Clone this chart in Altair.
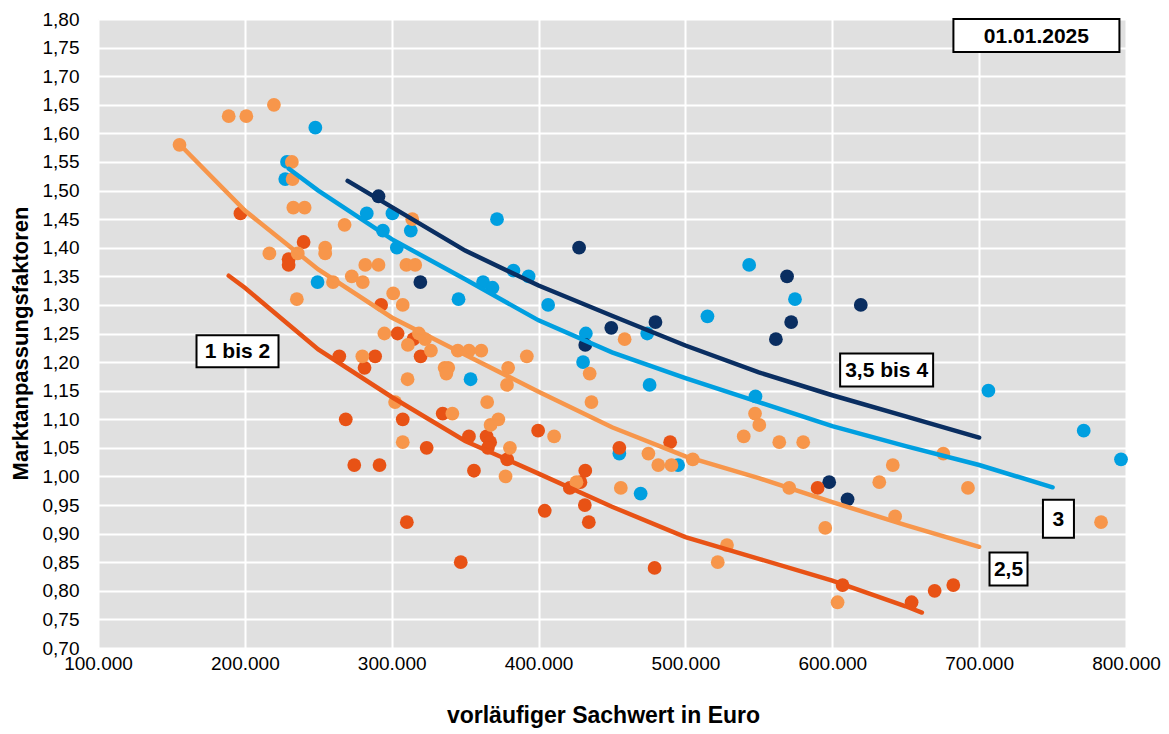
import altair as alt
import pandas as pd

# ---------------- data ----------------
# Standardstufe 3,5 bis 4 (navy)
navy_x = [291000, 319500, 427600, 431800, 449500, 479600, 561600, 569200, 572000, 597900, 610400, 619400]
navy_y = [1.49, 1.34, 1.40, 1.23, 1.26, 1.27, 1.24, 1.35, 1.27, 0.99, 0.96, 1.30]

# Standardstufe 3 (blue)
blue_x = [228700, 227500, 248000, 249500, 283000, 294000, 300500, 303500, 313000, 345500,
          353700, 362200, 368600, 371700, 382900, 393200, 406500, 430300, 432200, 455000,
          469500, 474000, 475600, 495000, 515000, 543400, 547700, 574600, 706300, 771200, 796600]
blue_y = [1.55, 1.52, 1.61, 1.34, 1.46, 1.43, 1.46, 1.40, 1.43, 1.31,
          1.17, 1.34, 1.33, 1.45, 1.36, 1.35, 1.30, 1.20, 1.25, 1.04,
          0.97, 1.25, 1.16, 1.02, 1.28, 1.37, 1.14, 1.31, 1.15, 1.08, 1.03]

# Standardstufe 2,5 (light orange)
orange_x = [155500, 189000, 201000, 219800, 216700, 232000, 232500, 233000, 240700, 235400,
            236000, 254700, 254700, 260000, 267900, 272800, 280300, 282000, 291000, 280000,
            295000, 301000, 302300, 307500, 307500, 310000, 316000, 311000, 310800, 314000,
            318500, 322700, 326700, 336000, 338500, 337200, 341300, 345000, 352600, 361000,
            365000, 367300, 372600, 377500, 378500, 379300, 380500, 392000, 410600, 425800,
            434800, 436000, 456000, 458600, 474800, 481500, 490500, 505000, 522000, 528300,
            539700, 547400, 550300, 563900, 570700, 580200, 595200, 603600, 632000, 641200,
            642800, 675600, 692400, 783000]
orange_y = [1.58, 1.63, 1.63, 1.65, 1.39, 1.55, 1.52, 1.47, 1.47, 1.31,
            1.39, 1.40, 1.39, 1.34, 1.44, 1.35, 1.34, 1.37, 1.37, 1.21,
            1.25, 1.32, 1.13, 1.30, 1.06, 1.37, 1.37, 1.23, 1.17, 1.45,
            1.25, 1.24, 1.22, 1.19, 1.19, 1.18, 1.11, 1.22, 1.22, 1.22,
            1.13, 1.09, 1.10, 1.00, 1.16, 1.19, 1.05, 1.21, 1.07, 0.99,
            1.18, 1.13, 0.98, 1.24, 1.04, 1.02, 1.02, 1.03, 0.85, 0.88,
            1.07, 1.11, 1.09, 1.06, 0.98, 1.06, 0.91, 0.78, 0.99, 1.02,
            0.93, 1.04, 0.98, 0.92]

# Standardstufe 1 bis 2 (dark orange)
dark_x = [197000, 240000, 229800, 229800, 264300, 268700, 274500, 281500, 288700, 291700,
          292800, 304000, 307500, 310300, 314800, 319700, 323800, 334700, 347000, 352600,
          356000, 364600, 367000, 365500, 378600, 399700, 404200, 421300, 428500, 431800,
          431500, 434200, 455000, 479000, 489600, 590000, 607000, 654000, 669700, 682400]
dark_y = [1.46, 1.41, 1.38, 1.37, 1.21, 1.10, 1.02, 1.19, 1.21, 1.02,
          1.30, 1.25, 1.10, 0.92, 1.24, 1.21, 1.05, 1.11, 0.85, 1.07,
          1.01, 1.07, 1.06, 1.05, 1.03, 1.08, 0.94, 0.98, 0.99, 1.01,
          0.95, 0.92, 1.05, 0.84, 1.06, 0.98, 0.81, 0.78, 0.80, 0.81]

# trend curves
navy_line_x = [270000, 350000, 400000, 450000, 500000, 550000, 600000, 650000, 700000]
navy_line_y = [1.517, 1.395, 1.334, 1.281, 1.229, 1.182, 1.142, 1.105, 1.068]
blue_line_x = [230000, 250000, 300000, 350000, 400000, 450000, 500000, 550000, 600000, 650000, 700000, 750000]
blue_line_y = [1.538, 1.500, 1.415, 1.345, 1.273, 1.217, 1.172, 1.130, 1.088, 1.053, 1.020, 0.981]
orange_line_x = [155500, 200000, 250000, 300000, 350000, 400000, 450000, 500000, 550000, 600000, 650000, 700000]
orange_line_y = [1.581, 1.465, 1.362, 1.278, 1.213, 1.148, 1.086, 1.035, 0.997, 0.955, 0.915, 0.877]
dark_line_x = [189000, 200000, 250000, 300000, 350000, 400000, 450000, 500000, 550000, 600000, 650000, 661000]
dark_line_y = [1.351, 1.330, 1.222, 1.139, 1.062, 1.005, 0.947, 0.894, 0.856, 0.818, 0.773, 0.762]

series_names = ["3,5 bis 4", "3", "2,5", "1 bis 2"]
series_colors = ["#0A2E61", "#009FE0", "#F7964B", "#E85215"]

# annotation labels
label_text = ["01.01.2025", "3,5 bis 4", "3", "2,5", "1 bis 2"]
label_x = [739000, 637000, 754000, 720000, 195000]
label_y = [1.771, 1.186, 0.926, 0.838, 1.219]
label_box_w = [166, 93, 31, 38, 82]
label_box_h = [33, 33, 38, 33, 32]

x_ticks = [100000, 200000, 300000, 400000, 500000, 600000, 700000, 800000]
y_ticks = [round(0.70 + 0.05 * i, 2) for i in range(23)]

# ---------------- build tables ----------------
def pts(xs, ys, name):
    return pd.DataFrame({"x": xs, "y": ys, "s": name})

points = {
    "3,5 bis 4": pts(navy_x, navy_y, "3,5 bis 4"),
    "3": pts(blue_x, blue_y, "3"),
    "2,5": pts(orange_x, orange_y, "2,5"),
    "1 bis 2": pts(dark_x, dark_y, "1 bis 2"),
}
lines = pd.concat([
    pts(navy_line_x, navy_line_y, "3,5 bis 4"),
    pts(blue_line_x, blue_line_y, "3"),
    pts(orange_line_x, orange_line_y, "2,5"),
    pts(dark_line_x, dark_line_y, "1 bis 2"),
])
labels = pd.DataFrame({"t": label_text, "x": label_x, "y": label_y})

x_scale = alt.Scale(domain=[100000, 800000], nice=False, zero=False)
y_scale = alt.Scale(domain=[0.70, 1.80], nice=False, zero=False)
color_scale = alt.Scale(domain=series_names, range=series_colors)

x_axis = alt.Axis(
    values=x_ticks, grid=True, gridColor="white", gridWidth=2, domain=False, ticks=False,
    tickSize=0, labelFontSize=19, labelColor="#000000", labelPadding=6, labelFlush=False,
    labelExpr="replace(format(datum.value, ',d'), ',', '.')",
    title="vorläufiger Sachwert in Euro", titleFontSize=23, titleFontWeight="bold",
    titleColor="#000000", titlePadding=31, titleX=505,
)
y_axis = alt.Axis(
    values=y_ticks, grid=True, gridColor="white", gridWidth=2, domain=False, ticks=False,
    tickSize=0, labelFontSize=19, labelColor="#000000", labelPadding=19, labelFlush=False,
    labelExpr="replace(format(datum.value, '.2f'), '.', ',')",
    title="Marktanpassungsfaktoren", titleFontSize=22, titleFontWeight="bold",
    titleColor="#000000", titlePadding=10, titleY=324,
)

base_x = alt.X("x:Q", scale=x_scale, axis=x_axis)
base_y = alt.Y("y:Q", scale=y_scale, axis=y_axis)

layers = []
for name in ["3", "3,5 bis 4", "1 bis 2", "2,5"]:
    layers.append(
        alt.Chart(points[name]).mark_circle(size=190, opacity=1).encode(
            x=base_x, y=base_y,
            color=alt.Color("s:N", scale=color_scale, legend=None),
        )
    )

layers.append(
    alt.Chart(lines).mark_line(strokeWidth=4.5, strokeCap="round").encode(
        x=base_x, y=base_y,
        color=alt.Color("s:N", scale=color_scale, legend=None),
        detail="s:N",
    )
)

for i, t in enumerate(label_text):
    w = label_box_w[i]
    h = label_box_h[i]
    d = labels[labels["t"] == t]
    layers.append(
        alt.Chart(d).mark_rect(
            fill="white", stroke="black", strokeWidth=2,
            xOffset=-w / 2, x2Offset=w / 2, yOffset=-h / 2, y2Offset=h / 2,
        ).encode(x=base_x, x2=alt.X2("x"), y=base_y, y2=alt.Y2("y"))
    )
    layers.append(
        alt.Chart(d).mark_text(
            fontSize=21, fontWeight="bold", color="black", align="center", baseline="middle",
            font="Liberation Sans", dy=1,
        ).encode(x=base_x, y=base_y, text="t:N")
    )

chart = alt.layer(*layers).properties(
    width=1028, height=629,
    autosize=alt.AutoSizeParams(type="none"),
    padding={"left": 90, "top": 11, "right": 35, "bottom": 84},
).configure(
    font="Liberation Sans",
).configure_view(
    fill="#E0E0E0", stroke="transparent",
)

chart.save("out.html", embed_options={"renderer": "svg", "actions": False})
